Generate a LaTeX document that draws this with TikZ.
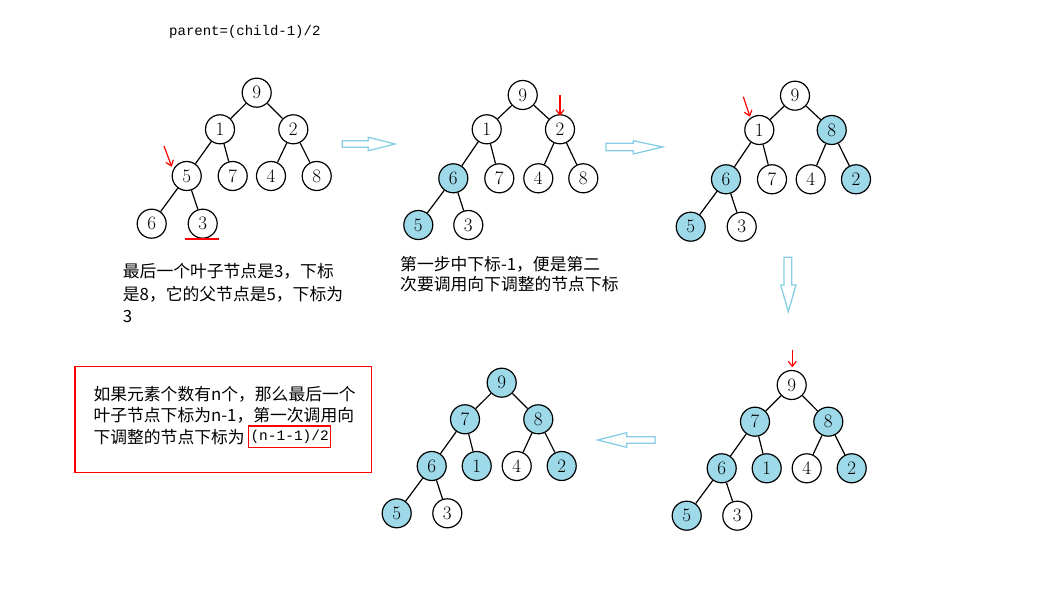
\documentclass[tikz,border=0pt]{standalone}
\usepackage{fontspec}
\setmonofont{Liberation Mono}
\newfontfamily\cjk{Noto Sans CJK SC}
\usetikzlibrary{positioning, arrows.meta}

\definecolor{bleunoeud}{RGB}{157,217,233}
\definecolor{bleufleche}{RGB}{135,205,230}

\begin{document}
\begin{tikzpicture}[x=1pt, y=-1pt,
    noeud/.style={circle, draw, line width=1.2pt, minimum size=29pt, inner sep=0pt, font=\fontsize{19}{19}\selectfont},
    plein/.style={noeud, fill=bleunoeud},
    arete/.style={line width=1.2pt},
    creuse/.style={draw=bleufleche, line width=1.3pt},
    rouge/.style={red, line width=1.2pt, -{Straight Barb[length=5pt, width=8pt]}},
    texte/.style={inner sep=0pt, anchor=north west, align=left}]
    \useasboundingbox (0,0) rectangle (1037,601);

    % Formule
    \node[anchor=west, inner sep=0pt, font=\ttfamily\fontsize{14}{14}\selectfont] (formule) at (169,32) {parent=(child-1)/2};

    % Arbre de depart
    \node[noeud] (a9) at (256.7,92.7) {9};
    \node[noeud] (a1) at (220,129.3) {1};
    \node[noeud] (a2) at (293.3,129.3) {2};
    \node[noeud] (a5) at (186.7,176) {5};
    \node[noeud] (a7) at (232.7,176) {7};
    \node[noeud] (a4) at (271,176) {4};
    \node[noeud] (a8) at (316.7,176) {8};
    \node[noeud] (a6) at (151.7,223.7) {6};
    \node[noeud] (a3) at (202.7,223.7) {3};
    \draw[arete] (a9) -- (a1) (a9) -- (a2) (a1) -- (a5) (a1) -- (a7)
                 (a2) -- (a4) (a2) -- (a8) (a5) -- (a6) (a5) -- (a3);
    \draw[rouge] (164,146) -- (171.7,166.7);
    \draw[red, line width=1.3pt] (185,239) -- (219,239);

    % Etape 1
    \node[noeud] (b9) at (522.7,95) {9};
    \node[noeud] (b1) at (486.7,129.3) {1};
    \node[noeud] (b2) at (560,129.3) {2};
    \node[plein] (b6) at (453.3,178.3) {6};
    \node[noeud] (b7) at (499.3,178.3) {7};
    \node[noeud] (b4) at (538.3,178.3) {4};
    \node[noeud] (b8) at (583.3,178.3) {8};
    \node[plein] (b5) at (418.3,225) {5};
    \node[noeud] (b3) at (468.3,225) {3};
    \draw[arete] (b9) -- (b1) (b9) -- (b2) (b1) -- (b6) (b1) -- (b7)
                 (b2) -- (b4) (b2) -- (b8) (b6) -- (b5) (b6) -- (b3);
    \draw[rouge] (560,95) -- (560,115.7);

    % Etape 2
    \node[noeud] (c9) at (795,95.7) {9};
    \node[noeud] (c1) at (759.3,130) {1};
    \node[plein] (c8) at (831.7,130) {8};
    \node[plein] (c6) at (726,179.3) {6};
    \node[noeud] (c7) at (772,179.3) {7};
    \node[noeud] (c4) at (810.7,179.3) {4};
    \node[plein] (c2) at (856,179.3) {2};
    \node[plein] (c5) at (690.7,226.7) {5};
    \node[noeud] (c3) at (741.7,226.7) {3};
    \draw[arete] (c9) -- (c1) (c9) -- (c8) (c1) -- (c6) (c1) -- (c7)
                 (c8) -- (c4) (c8) -- (c2) (c6) -- (c5) (c6) -- (c3);
    \draw[rouge] (743.3,96.7) -- (750,116.7);

    % Etape 3
    \node[noeud] (d9) at (791.7,385) {9};
    \node[plein] (d7) at (755,421.7) {7};
    \node[plein] (d8) at (828.3,421.7) {8};
    \node[plein] (d6) at (721.7,468.3) {6};
    \node[plein] (d1) at (766.7,468.3) {1};
    \node[noeud] (d4) at (806.7,468.3) {4};
    \node[plein] (d2) at (851.7,468.3) {2};
    \node[plein] (d5) at (686.7,515.7) {5};
    \node[noeud] (d3) at (737.3,515.7) {3};
    \draw[arete] (d9) -- (d7) (d9) -- (d8) (d7) -- (d6) (d7) -- (d1)
                 (d8) -- (d4) (d8) -- (d2) (d6) -- (d5) (d6) -- (d3);
    \draw[rouge] (792.3,350) -- (792.3,367.3);

    % Tas final
    \node[plein] (e9) at (501.7,382.7) {9};
    \node[plein] (e7) at (465,419.3) {7};
    \node[plein] (e8) at (538.3,419.3) {8};
    \node[plein] (e6) at (431.7,466) {6};
    \node[plein] (e1) at (476.7,466) {1};
    \node[noeud] (e4) at (516.7,466) {4};
    \node[plein] (e2) at (561.7,466) {2};
    \node[plein] (e5) at (396.7,513.3) {5};
    \node[noeud] (e3) at (447.3,513.3) {3};
    \draw[arete] (e9) -- (e7) (e9) -- (e8) (e7) -- (e6) (e7) -- (e1)
                 (e8) -- (e4) (e8) -- (e2) (e6) -- (e5) (e6) -- (e3);

    % Fleches creuses
    \draw[creuse] (342.3,140.8) -- (368.3,140.8) -- (368.3,137.3) -- (395,144) -- (368.3,150.7) -- (368.3,147.2) -- (342.3,147.2) -- cycle;
    \draw[creuse] (606,143.3) -- (633.3,143.3) -- (633.3,140.7) -- (662.7,147) -- (633.3,154) -- (633.3,150.7) -- (606,150.7) -- cycle;
    \draw[creuse] (784,257.3) -- (791.7,257.3) -- (791.7,285) -- (796,285) -- (788.3,311.7) -- (780.7,285) -- (784,285) -- cycle;
    \draw[creuse] (655,436.7) -- (626.7,436.7) -- (626.7,432.7) -- (597.7,440) -- (626.7,447.3) -- (626.7,443.3) -- (655,443.3) -- cycle;

    % Textes
    \node[texte, font=\cjk\fontsize{16.8}{22.5}\selectfont] (expl1) at (122.7,263.3)
        {最后一个叶子节点是3，下标\\是8，它的父节点是5，下标为\\3};
    \node[texte, font=\cjk\fontsize{16.8}{20}\selectfont] (expl2) at (400,256.6)
        {第一步中下标-1，便是第二\\次要调用向下调整的节点下标};

    % Cadre rouge
    \draw[red, line width=1.2pt] (75,366.7) rectangle (371.7,472.3);
    \node[anchor=west, inner sep=0pt, font=\cjk\fontsize{16.8}{20}\selectfont] (regle1) at (93.3,394.3) {如果元素个数有n个，那么最后一个};
    \node[anchor=west, inner sep=0pt, font=\cjk\fontsize{16.8}{20}\selectfont] (regle2) at (93.3,415.5) {叶子节点下标为n-1，第一次调用向};
    \node[anchor=west, inner sep=0pt, font=\cjk\fontsize{16.8}{20}\selectfont] (regle3) at (93.3,436.7) {下调整的节点下标为};
    \node[right=3pt of regle3, draw=red, line width=1.2pt, inner xsep=2pt, inner ysep=4pt, font=\ttfamily\fontsize{14.5}{14.5}\selectfont] (indice) {(n-1-1)/2};
\end{tikzpicture}
\end{document}
